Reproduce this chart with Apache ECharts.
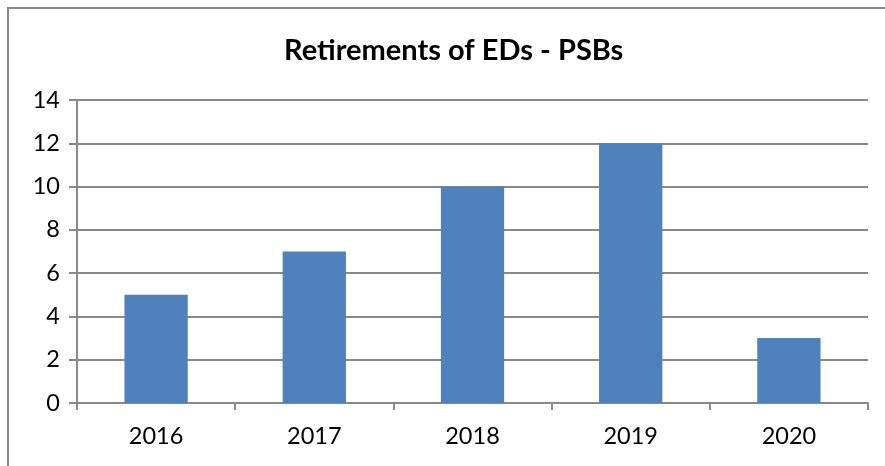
<!DOCTYPE html>
<html>
<head>
<meta charset="utf-8">
<script src="https://cdn.jsdelivr.net/npm/echarts@6/dist/echarts.min.js"></script>
<style>
  html, body { margin: 0; padding: 0; background: #fff; }
  #chart { width: 885px; height: 466px; }
</style>
</head>
<body>
<div id="chart"></div>
<script>
var years = ['2016', '2017', '2018', '2019', '2020'];
var retirements = [5, 7, 10, 12, 3];

var myChart = echarts.init(document.getElementById('chart'));

var option = {
    animation: false,
    textStyle: { fontFamily: 'Lato' },
    title: {
        text: 'Retirements of EDs - PSBs',
        left: 279,
        top: 31,
        textStyle: { fontFamily: 'Lato', fontWeight: 'bold', fontSize: 29, color: '#000' }
    },
    graphic: [
        {
            type: 'rect',
            shape: { x: 8, y: 8, width: 900, height: 500 },
            style: { fill: 'none', stroke: '#8a8a8a', lineWidth: 2 }
        }
    ],
    grid: { left: 77, right: 17, top: 100, bottom: 63 },
    xAxis: {
        type: 'category',
        data: years,
        axisLine: { lineStyle: { color: '#8a8a8a', width: 2 } },
        axisTick: { show: true, length: 7, lineStyle: { color: '#8a8a8a', width: 2 } },
        axisLabel: { color: '#000', fontSize: 23.5, margin: 21 }
    },
    yAxis: {
        type: 'value',
        min: 0,
        max: 14,
        interval: 2,
        axisLine: { show: true, lineStyle: { color: '#8a8a8a', width: 2 } },
        axisTick: { show: true, length: 8, lineStyle: { color: '#8a8a8a', width: 2 } },
        axisLabel: { color: '#000', fontSize: 23.5, margin: 17 },
        splitLine: { lineStyle: { color: '#8a8a8a', width: 2 } }
    },
    series: [
        {
            name: 'Retirements',
            type: 'bar',
            data: retirements,
            barWidth: '40%',
            itemStyle: { color: '#4f81bd' }
        }
    ]
};

myChart.setOption(option);
window.addEventListener('resize', function () {
    myChart.resize();
});
</script>
</body>
</html>
